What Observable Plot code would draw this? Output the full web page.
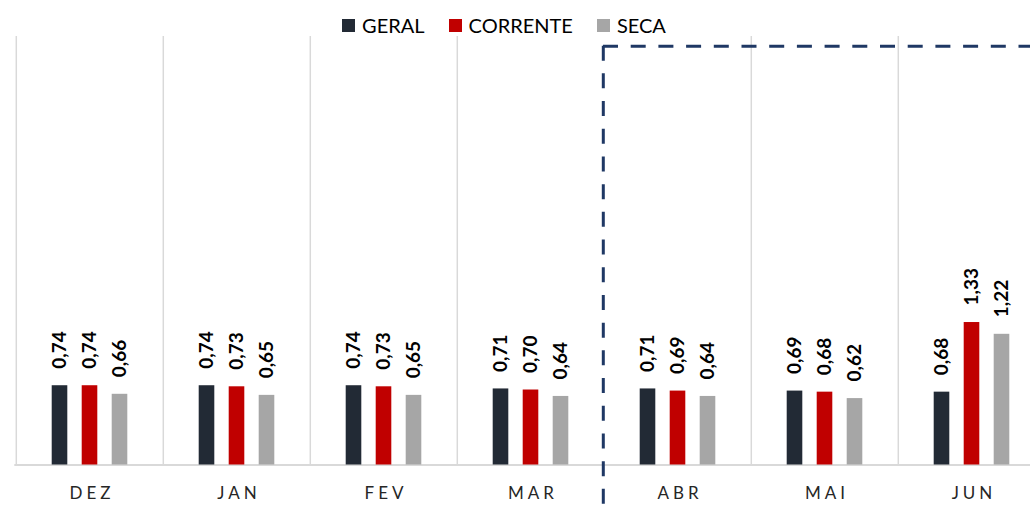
<!DOCTYPE html>
<html>
<head>
<meta charset="utf-8">
<script src="https://cdn.jsdelivr.net/npm/d3@7"></script>
<script src="https://cdn.jsdelivr.net/npm/@observablehq/plot@0.6"></script>
<style>
  html, body { margin: 0; padding: 0; background: #fff; }
  body { width: 1030px; height: 522px; overflow: hidden; font-family: Lato, "Open Sans", sans-serif; }
  #legend { height: 36px; display: flex; justify-content: center; align-items: flex-end; font-size: 20px; color: #000; padding-right: 22px; box-sizing: border-box; }
  #legend .item { display: flex; align-items: center; margin: 0 12px; height: 22px; }
  #legend .sw { width: 13px; height: 13px; margin-right: 7px; }
  #chart svg { display: block; }
  g[aria-label="x-axis tick label"] { letter-spacing: 4px; }
</style>
</head>
<body>
<div id="legend"></div>
<div id="chart"></div>
<script>
const months = ["DEZ", "JAN", "FEV", "MAR", "ABR", "MAI", "JUN"];
const geral = [0.74, 0.74, 0.74, 0.71, 0.71, 0.69, 0.68];
const corrente = [0.74, 0.73, 0.73, 0.70, 0.69, 0.68, 1.33];
const seca = [0.66, 0.65, 0.65, 0.64, 0.64, 0.62, 1.22];
const seriesNames = ["GERAL", "CORRENTE", "SECA"];
const seriesColors = ["#222a35", "#c00000", "#a6a6a6"];
const highlight = {from: "ABR", to: "JUN", top: 3.91, bottom: -0.4};

const data = months.map((m, i) => ({month: m, GERAL: geral[i], CORRENTE: corrente[i], SECA: seca[i]}));
const fmt = v => d3.format(".2f")(v).replace(".", ",");

// legend
const legend = document.getElementById("legend");
seriesNames.forEach((s, i) => {
  const it = document.createElement("div");
  it.className = "item";
  it.innerHTML = `<span class="sw" style="background:${seriesColors[i]}"></span><span>${s}</span>`;
  legend.appendChild(it);
});

const x0 = 14.3, step = 147.4;
const xRange = [x0, x0 + step * months.length];
const bw = step;
const barW = 16, gap = 30;

const marks = [];
marks.push(Plot.ruleX(months.filter(m => m !== highlight.from), {x: d => d, dx: -bw / 2, stroke: "#d9d9d9", strokeWidth: 1.5}));
marks.push(Plot.ruleY([0], {stroke: "#d9d9d9", strokeWidth: 2}));
seriesNames.forEach((s, i) => {
  marks.push(Plot.barY(data, {x: "month", y: s, fill: seriesColors[i], dx: (i - 1) * gap,
    insetLeft: (bw - barW) / 2, insetRight: (bw - barW) / 2}));
  marks.push(Plot.text(data, {x: "month", y: s, text: d => fmt(d[s]), rotate: -90, textAnchor: "start",
    dx: (i - 1) * gap, dy: -17, fontWeight: "bold", fontSize: 19, fill: "#000"}));
});
marks.push(Plot.ruleX([highlight], {x: "from", y1: "top", y2: "bottom", dx: -bw / 2 - 1,
  stroke: "#1f3864", strokeWidth: 3, strokeDasharray: "15,12.7"}));
marks.push(Plot.ruleY([highlight], {y: "top", x1: "from", x2: "to", dx: -1,
  stroke: "#1f3864", strokeWidth: 3, strokeDasharray: "15,12.7"}));
marks.push(Plot.axisX({tickSize: 0, tickPadding: 22, fontSize: 17, fill: "#262626", dx: 2}));

const chart = Plot.plot({
  width: 1030,
  height: 486,
  marginTop: 0,
  marginLeft: x0,
  marginRight: 0,
  marginBottom: 57.5,
  style: {fontFamily: "Lato, 'Open Sans', sans-serif", background: "#fff", overflow: "hidden"},
  x: {type: "band", domain: months, range: xRange, padding: 0, axis: null},
  y: {domain: [0, 4], axis: null},
  marks
});
document.getElementById("chart").appendChild(chart);
</script>
</body>
</html>
